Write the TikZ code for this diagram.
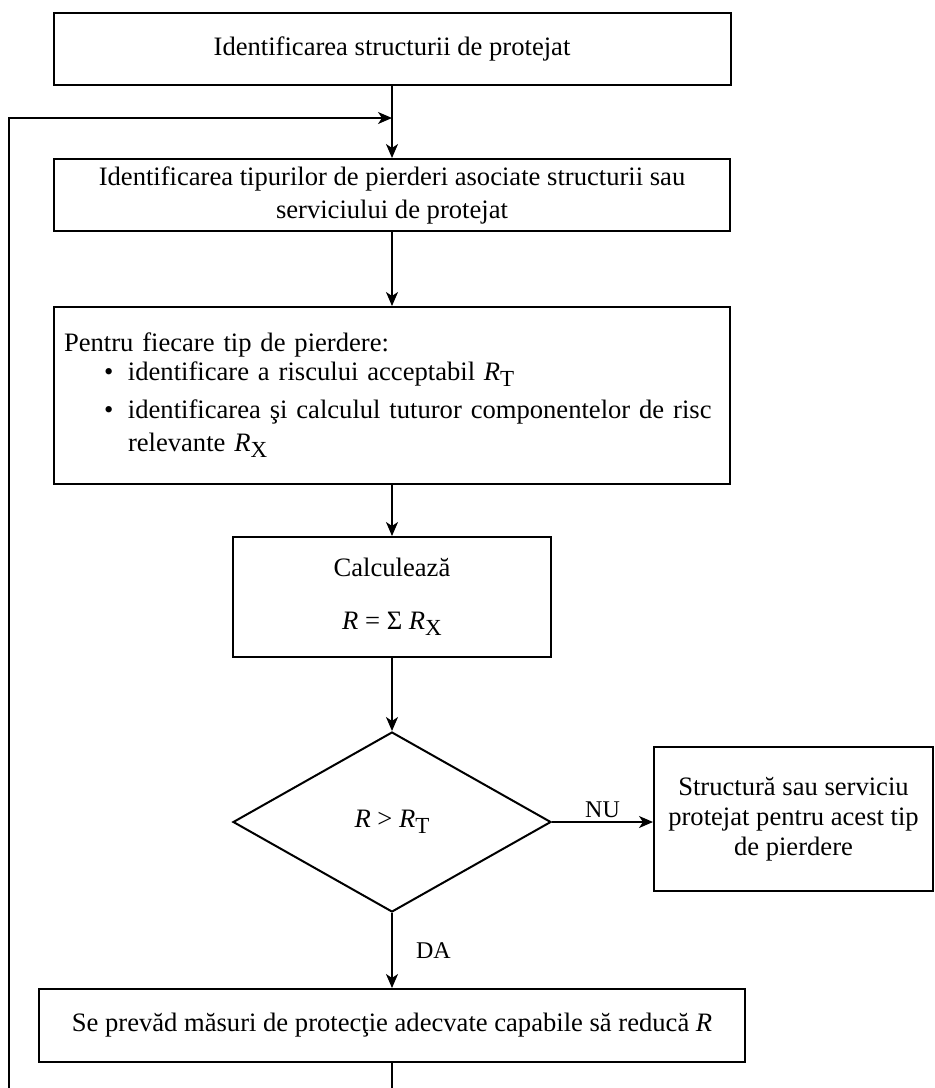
\documentclass[tikz,border=0pt]{standalone}
\usepackage{fontspec}
\setmainfont{Liberation Serif}
\usetikzlibrary{
  arrows.meta,
  shapes.geometric,
  positioning,
  calc
}
\newcommand{\riskR}[1]{\textit{R}\raisebox{-6pt}{\fontsize{23}{23}\selectfont #1}}
\tikzset{
  stepbox/.style={
    draw, rectangle, line width=2pt,
    align=center, inner sep=0pt,
    font=\fontsize{26.6}{33}\selectfont
  },
  decision/.style={
    draw, diamond, line width=2pt, inner sep=0pt,
    font=\fontsize{26.6}{33}\selectfont
  },
  flow arrow/.style={
    -{Stealth[length=14pt, width=12pt, inset=4pt]}, line width=1.6pt
  },
  flow line/.style={
    line width=1.6pt
  },
  branch label/.style={
    font=\fontsize{24}{28}\selectfont
  },
}
\begin{document}
\begin{tikzpicture}[x=1pt, y=-1pt]
  \useasboundingbox (0,0) rectangle (935,1088);

  % Steps
  \node[stepbox, minimum width=677pt, minimum height=72pt] (ident) at (392, 49)
    {Identificarea structurii de protejat};
  \node[stepbox, minimum width=676pt, minimum height=72pt] (losses) at (392, 195)
    {Identificarea tipurilor de pierderi asociate structurii sau\\
     serviciului de protejat};
  \node[stepbox, minimum width=676pt, minimum height=177pt,
        text width=656pt, align=left] (perloss) at (392, 395.5) {
      Pentru fiecare tip de pierdere:\\[-4pt]
      \hspace*{40pt}\makebox[24pt][l]{\textbullet}identificare a riscului acceptabil \riskR{T}\\[5pt]
      \hspace*{40pt}\makebox[24pt][l]{\textbullet}identificarea şi calculul tuturor componentelor de risc\\
      \hspace*{64pt}relevante \riskR{X}
    };
  \node[stepbox, minimum width=318pt, minimum height=120pt] (calc) at (392, 597)
    {Calculează\\[20pt] \textit{R} = Σ \riskR{X}};

  % Decision
  \node[decision, minimum width=318pt, minimum height=180pt] (check) at (392, 822)
    {\textit{R} > \riskR{T}};
  \node[stepbox, minimum width=279pt, minimum height=144pt,
        font=\fontsize{26.6}{30}\selectfont] (safe) at (793.5, 819)
    {Structură sau serviciu\\ protejat pentru acest tip\\ de pierdere};
  \node[stepbox, minimum width=706pt, minimum height=73pt] (measures) at (392, 1025.5)
    {Se prevăd măsuri de protecţie adecvate capabile să reducă \textit{R}};

  % Loop back
  \coordinate (loopin) at (392, 118);
  \coordinate (loopbot) at (9, 1088);
  \coordinate (exit) at (392, 1088);

  \draw[flow arrow] (ident) -- (losses);
  \draw[flow arrow] (loopbot) |- (loopin);
  \draw[flow arrow] (losses) -- (perloss);
  \draw[flow arrow] (perloss) -- (calc);
  \draw[flow arrow] (calc) -- (check);
  \draw[flow arrow] (check.east) -- (check.east -| safe.west)
    node[midway, above, branch label] {NU};
  \draw[flow arrow] (check.south) -- (measures.north)
    node[midway, right=20pt, branch label] {DA};
  \draw[flow line] (measures) -- (exit);

\end{tikzpicture}
\end{document}
